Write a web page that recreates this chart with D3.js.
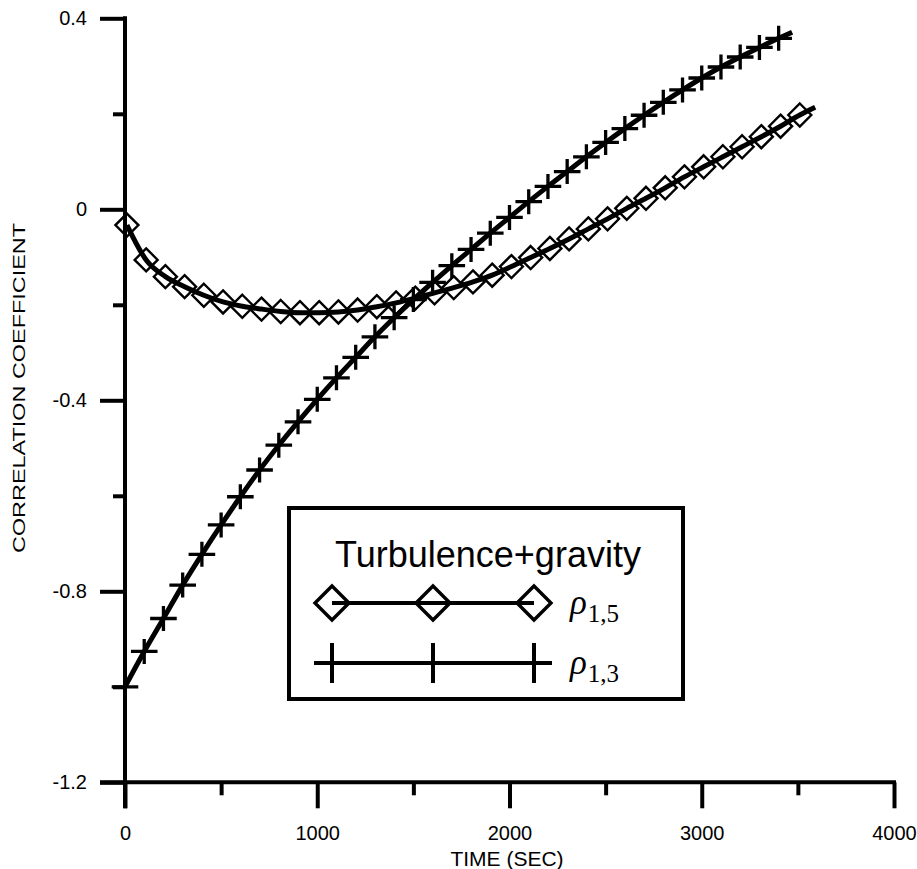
<!DOCTYPE html>
<html>
<head>
<meta charset="utf-8">
<script src="https://cdn.jsdelivr.net/npm/d3@7"></script>
<style>
  html, body { margin: 0; padding: 0; background: #fff; }
  svg { display: block; }
</style>
</head>
<body>
<svg id="chart" width="917" height="869"></svg>
<script>
// Correlation coefficients over time (turbulence + gravity case)
const rho15Time = [10, 110, 210, 310, 410, 510, 610, 710, 810, 910, 1010, 1110, 1210, 1310, 1410, 1510,
  1610, 1710, 1810, 1910, 2010, 2110, 2210, 2310, 2410, 2510, 2610, 2710, 2810, 2910, 3010, 3110,
  3210, 3310, 3410, 3510];
const rho15Value = [-0.033, -0.106, -0.141, -0.162, -0.180, -0.194, -0.203, -0.209, -0.214, -0.2165,
  -0.2165, -0.215, -0.211, -0.204, -0.196, -0.186, -0.175, -0.164, -0.152, -0.138, -0.120, -0.101,
  -0.082, -0.062, -0.041, -0.020, 0.002, 0.023, 0.045, 0.068, 0.089, 0.110, 0.131, 0.152, 0.174, 0.1975];
// the fitted curve runs a little past the last sample
const rho15LineEnd = { t: 3590, v: 0.2136 };

const rho13Time = [0, 100, 200, 300, 400, 500, 600, 700, 800, 900, 1000, 1100, 1200, 1300, 1400, 1500,
  1600, 1700, 1800, 1900, 2000, 2100, 2200, 2300, 2400, 2500, 2600, 2700, 2800, 2900, 3000, 3100,
  3200, 3300, 3400];
const rho13Value = [-1.000, -0.926, -0.857, -0.787, -0.7225, -0.661, -0.602, -0.546, -0.494, -0.445,
  -0.398, -0.353, -0.310, -0.267, -0.227, -0.189, -0.153, -0.118, -0.084, -0.050, -0.017, 0.016,
  0.048, 0.079, 0.110, 0.140, 0.169, 0.197, 0.224, 0.250, 0.275, 0.298, 0.319, 0.339, 0.358];
const rho13LineEnd = { t: 3470, v: 0.371 };

const xMajorTicks = [0, 1000, 2000, 3000, 4000];
const xMinorTicks = [500, 1500, 2500, 3500];
const yMajorTicks = [0.4, 0, -0.4, -0.8, -1.2];
const yMinorTicks = [0.2, -0.2, -0.6, -1.0];
const yTickLabels = ["0.4", "0", "-0.4", "-0.8", "-1.2"];

const xTitle = "TIME (SEC)";
const yTitle = "CORRELATION COEFFICIENT";
const legendTitle = "Turbulence+gravity";

const svg = d3.select("#chart");
const sans = "'Liberation Sans', Arial, Helvetica, sans-serif";
const serif = "'Liberation Serif', 'Times New Roman', serif";

const x = d3.scaleLinear().domain([0, 4000]).range([125, 894]);
const y = d3.scaleLinear().domain([-1.2, 0.4]).range([782.3, 18.3]);

const axisW = 4;

// ---- axes ----
const gx = svg.append("g").attr("transform", `translate(0,${y(-1.2)})`);
gx.call(d3.axisBottom(x).tickValues(xMajorTicks).tickSize(26).tickSizeOuter(0).tickPadding(17.5)
  .tickFormat(d3.format("d")));
const gxm = svg.append("g").attr("transform", `translate(0,${y(-1.2)})`);
gxm.call(d3.axisBottom(x).tickValues(xMinorTicks).tickSize(13).tickSizeOuter(0).tickFormat(""));

const gy = svg.append("g").attr("transform", `translate(${x(0)},0)`);
gy.call(d3.axisLeft(y).tickValues(yMajorTicks).tickSize(25).tickSizeOuter(0).tickPadding(13)
  .tickFormat((d, i) => yTickLabels[i]));
const gym = svg.append("g").attr("transform", `translate(${x(0)},0)`);
gym.call(d3.axisLeft(y).tickValues(yMinorTicks).tickSize(12).tickSizeOuter(0).tickFormat(""));

svg.selectAll(".domain").remove();
svg.selectAll(".tick line").attr("stroke", "#000").attr("stroke-width", axisW);
svg.selectAll(".tick text").attr("fill", "#000").style("font-family", sans).style("font-size", "20px");

// axis lines
svg.append("line")
  .attr("x1", x(0) - 25).attr("x2", x(4000) + axisW / 2)
  .attr("y1", y(-1.2)).attr("y2", y(-1.2))
  .attr("stroke", "#000").attr("stroke-width", axisW);
svg.append("line")
  .attr("x1", x(0)).attr("x2", x(0))
  .attr("y1", y(0.4) - axisW / 2).attr("y2", y(-1.2) + 26)
  .attr("stroke", "#000").attr("stroke-width", axisW);

// axis titles
svg.append("text")
  .attr("x", 507).attr("y", 866)
  .attr("text-anchor", "middle")
  .style("font-family", sans).style("font-size", "21px")
  .text(xTitle);
svg.append("text")
  .attr("transform", "translate(25,388) rotate(-90)")
  .attr("text-anchor", "middle")
  .attr("textLength", 330).attr("lengthAdjust", "spacingAndGlyphs")
  .style("font-family", sans).style("font-size", "16.5px")
  .text(yTitle);

// ---- series ----
const line = d3.line().x(d => x(d.t)).y(d => y(d.v)).curve(d3.curveMonotoneX);

const rho15 = rho15Time.map((t, i) => ({ t, v: rho15Value[i] }));
const rho13 = rho13Time.map((t, i) => ({ t, v: rho13Value[i] }));

function diamondPath(r) {
  return `M0,${-r}L${r},0L0,${r}L${-r},0Z`;
}
function plusPath(w, h) {
  return `M${-w},0H${w}M0,${-h}V${h}`;
}

// diamond markers
svg.append("g").selectAll("path").data(rho15).join("path")
  .attr("transform", d => `translate(${x(d.t)},${y(d.v)})`)
  .attr("d", diamondPath(11.5))
  .attr("fill", "none").attr("stroke", "#000").attr("stroke-width", 2.4);
// plus markers
svg.append("g").selectAll("path").data(rho13).join("path")
  .attr("transform", d => `translate(${x(d.t)},${y(d.v)})`)
  .attr("d", plusPath(13.3, 12.5))
  .attr("fill", "none").attr("stroke", "#000").attr("stroke-width", 3.3);

svg.append("path").datum(rho15.concat([rho15LineEnd]))
  .attr("d", line).attr("fill", "none").attr("stroke", "#000").attr("stroke-width", 5);
svg.append("path").datum(rho13.concat([rho13LineEnd]))
  .attr("d", line).attr("fill", "none").attr("stroke", "#000").attr("stroke-width", 5);

// ---- legend ----
const lg = svg.append("g");
lg.append("rect")
  .attr("x", 289).attr("y", 508).attr("width", 394).attr("height", 191)
  .attr("fill", "#fff").attr("stroke", "#000").attr("stroke-width", 4);
lg.append("text")
  .attr("x", 488).attr("y", 567).attr("text-anchor", "middle")
  .style("font-family", sans).style("font-size", "36px")
  .text(legendTitle);

const legendRows = [
  { key: "1,5", y: 603, marker: "diamond" },
  { key: "1,3", y: 663, marker: "plus" }
];
const legendMarkX = [332, 433, 534];
legendRows.forEach(row => {
  const g = lg.append("g");
  legendMarkX.forEach(mx => {
    g.append("path")
      .attr("transform", `translate(${mx},${row.y})`)
      .attr("d", row.marker === "diamond" ? diamondPath(17) : plusPath(18, 20))
      .attr("fill", "none").attr("stroke", "#000")
      .attr("stroke-width", row.marker === "diamond" ? 3.4 : 4);
  });
  g.append("line")
    .attr("x1", legendMarkX[0]).attr("x2", legendMarkX[2])
    .attr("y1", row.y).attr("y2", row.y)
    .attr("stroke", "#000").attr("stroke-width", 4);
  const t = g.append("text")
    .attr("x", 570).attr("y", row.y + 11)
    .style("font-family", serif);
  t.append("tspan").style("font-style", "italic").style("font-size", "35px").text("ρ");
  t.append("tspan").attr("dy", 8).attr("dx", 1).style("font-size", "25px").text(row.key);
});
</script>
</body>
</html>
